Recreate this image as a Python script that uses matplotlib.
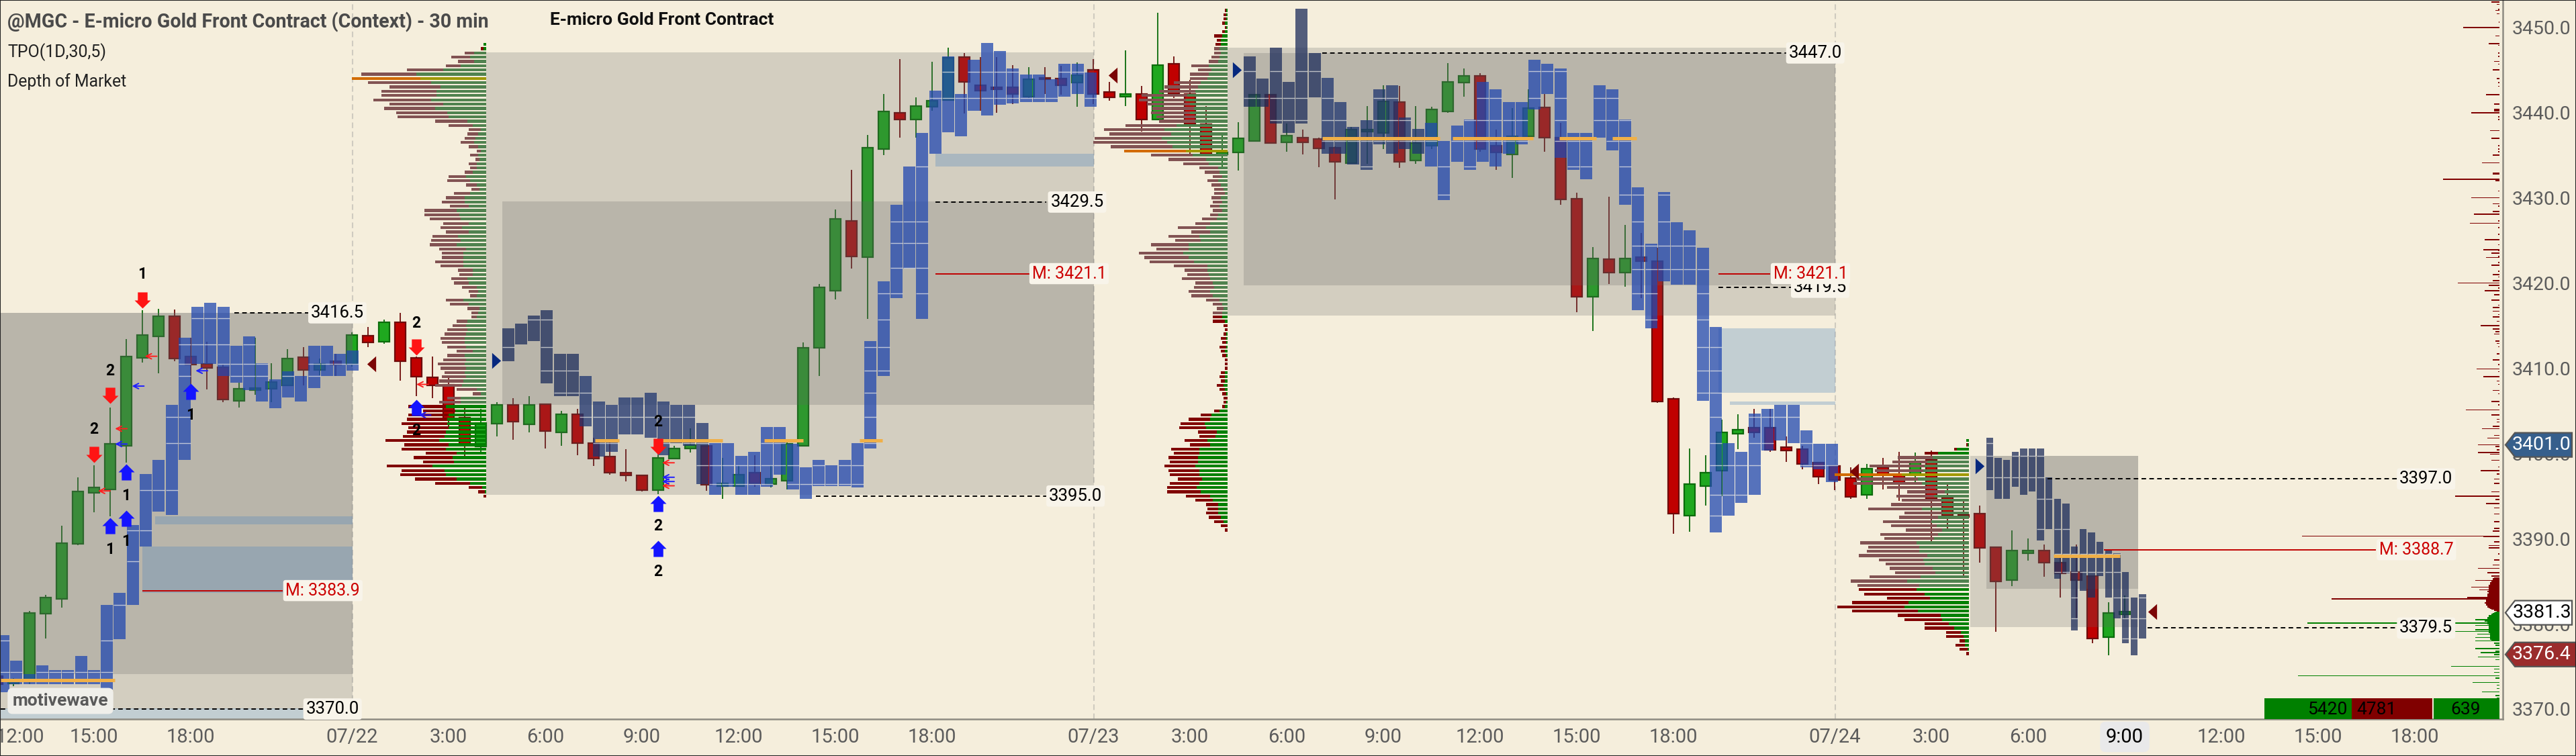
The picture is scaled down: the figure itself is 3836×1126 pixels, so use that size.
import matplotlib
matplotlib.use("Agg")
import matplotlib.pyplot as plt
from matplotlib.path import Path
from matplotlib.patches import Polygon, Rectangle
from matplotlib.transforms import blended_transform_factory

W, H = 3836, 1126
BG = "#F5EEDC"
plt.rcParams["font.family"] = ["Roboto", "DejaVu Sans"]

# candles: 30 min bars, bar 0 sits on the 07/22 line
first_bar = -22
opens = [3373.9, 3373.0, 3373.2, 3381.2, 3382.9, 3389.4, 3395.4, 3395.8, 3400.9, 3411.2, 3413.7, 3416.1, 3411.4, 3410.5, 3410.1, 3406.2, 3407.4, 3407.6, 3408.0, 3411.3, 3409.8, 3410.8,
         3410.5, 3413.8, 3413.1, 3415.4, 3411.2, 3408.9, 3408.1, 3404.2, 3400.8, 3403.5, 3405.7, 3403.4, 3405.8, 3402.5, 3404.6, 3401.2, 3399.6, 3397.7, 3397.4, 3395.7, 3399.4, 3400.6,
         3400.9, 3396.2, 3396.2, 3397.7, 3396.4, 3396.8, 3400.9, 3412.4, 3419.1, 3427.3, 3423.0, 3435.7, 3440.0, 3439.2, 3440.7, 3441.5, 3446.5, 3443.2, 3443.0, 3443.0, 3441.9, 3444.1,
         3444.0, 3443.5, 3445.0, 3442.4, 3441.9, 3442.2, 3439.2, 3445.7, 3442.2, 3438.6, 3435.1, 3435.3, 3436.7, 3442.1, 3436.5, 3437.1, 3436.9, 3435.9, 3434.1, 3437.8, 3437.6, 3441.2,
         3434.4, 3436.1, 3440.1, 3443.5, 3444.3, 3436.1, 3435.1, 3437.2, 3440.6, 3437.1, 3429.9, 3418.4, 3422.8, 3421.2, 3423.0, 3422.6, 3406.4, 3392.7, 3396.2, 3398.0, 3402.3, 3403.0,
         3403.0, 3400.7, 3400.5, 3398.9, 3398.5, 3397.1, 3395.1, 3398.4, 3397.5, 3397.5, 3399.2, 3394.8, 3392.8, 3392.9, 3389.0, 3385.1, 3388.3, 3388.6, 3387.2, 3386.1, 3385.6, 3378.4,
         3381.1]
highs = [3374.1, 3373.6, 3381.5, 3383.4, 3391.5, 3397.2, 3398.6, 3405.4, 3413.4, 3416.8, 3417.0, 3416.9, 3413.6, 3413.1, 3410.4, 3408.3, 3413.6, 3410.6, 3412.2, 3412.5, 3411.1, 3411.7,
         3414.2, 3414.8, 3415.7, 3416.5, 3411.4, 3411.4, 3408.9, 3405.7, 3405.2, 3406.0, 3406.5, 3406.7, 3405.8, 3405.0, 3405.2, 3401.8, 3401.3, 3400.5, 3397.5, 3399.8, 3400.9, 3402.9,
         3400.9, 3399.5, 3398.6, 3399.8, 3398.6, 3401.3, 3413.0, 3419.9, 3428.6, 3433.3, 3437.4, 3442.2, 3446.3, 3441.8, 3446.0, 3447.6, 3447.0, 3446.5, 3446.5, 3445.6, 3445.3, 3445.3,
         3445.5, 3445.9, 3446.3, 3443.6, 3447.3, 3443.1, 3451.7, 3446.6, 3443.8, 3440.8, 3437.7, 3438.9, 3442.1, 3442.2, 3438.7, 3438.0, 3437.1, 3436.0, 3438.3, 3440.8, 3443.2, 3443.1,
         3440.8, 3440.7, 3445.8, 3445.2, 3444.6, 3438.0, 3440.5, 3442.7, 3442.2, 3438.8, 3430.6, 3424.2, 3430.1, 3426.8, 3425.9, 3424.1, 3406.6, 3400.6, 3399.8, 3404.0, 3404.6, 3405.2,
         3405.2, 3402.0, 3400.9, 3399.0, 3398.5, 3398.4, 3398.8, 3399.5, 3400.2, 3400.1, 3400.3, 3396.4, 3394.4, 3393.9, 3389.0, 3391.0, 3390.0, 3389.3, 3387.9, 3389.3, 3385.6, 3382.5,
         3383.3]
lows = [3372.6, 3372.7, 3372.9, 3378.3, 3381.9, 3389.2, 3393.1, 3392.6, 3398.9, 3410.7, 3409.4, 3410.8, 3408.0, 3407.5, 3406.0, 3405.4, 3406.9, 3406.0, 3407.9, 3408.0, 3409.2, 3409.1,
        3410.2, 3412.5, 3412.9, 3408.5, 3406.7, 3406.5, 3403.0, 3399.6, 3400.1, 3402.0, 3401.6, 3402.5, 3400.6, 3400.9, 3399.8, 3398.5, 3397.5, 3396.7, 3395.5, 3395.2, 3399.3, 3400.1,
        3395.6, 3394.7, 3396.1, 3396.1, 3396.0, 3395.8, 3400.8, 3409.1, 3418.1, 3421.7, 3415.8, 3435.0, 3437.1, 3437.1, 3440.2, 3441.4, 3439.9, 3440.2, 3440.0, 3441.0, 3441.7, 3442.2,
        3442.1, 3440.7, 3441.0, 3441.4, 3440.8, 3437.8, 3439.1, 3441.7, 3435.1, 3435.1, 3433.7, 3433.2, 3436.7, 3436.4, 3435.4, 3435.1, 3433.6, 3429.8, 3434.0, 3434.0, 3435.7, 3433.5,
        3434.0, 3435.7, 3440.0, 3441.9, 3435.4, 3433.3, 3432.3, 3437.1, 3435.4, 3429.2, 3416.6, 3414.4, 3419.9, 3419.6, 3418.2, 3405.9, 3390.6, 3390.8, 3393.9, 3395.0, 3400.5, 3401.8,
        3400.2, 3399.0, 3398.1, 3396.4, 3395.7, 3394.7, 3394.7, 3395.8, 3394.4, 3396.4, 3389.6, 3391.0, 3385.6, 3387.2, 3379.1, 3384.4, 3387.4, 3385.5, 3383.1, 3380.6, 3377.7, 3376.3,
        3380.6]
closes = [3372.9, 3373.3, 3381.3, 3383.1, 3389.5, 3395.5, 3396.0, 3401.1, 3411.4, 3413.9, 3416.1, 3411.1, 3410.4, 3410.0, 3406.3, 3407.6, 3407.7, 3408.4, 3411.1, 3409.8, 3410.5, 3410.4,
          3413.9, 3413.0, 3415.4, 3410.8, 3409.0, 3408.0, 3404.1, 3401.1, 3403.6, 3405.7, 3403.7, 3405.7, 3402.6, 3404.6, 3401.2, 3399.4, 3397.7, 3397.4, 3395.7, 3399.5, 3400.6, 3401.0,
          3396.3, 3396.5, 3397.5, 3396.5, 3397.0, 3401.1, 3412.4, 3419.5, 3427.5, 3423.1, 3435.9, 3440.1, 3439.2, 3440.8, 3441.4, 3446.4, 3443.6, 3442.6, 3442.7, 3442.2, 3443.9, 3443.9,
          3443.2, 3444.4, 3442.2, 3441.8, 3442.2, 3439.2, 3445.6, 3442.2, 3438.6, 3435.1, 3435.3, 3437.0, 3442.1, 3436.4, 3437.3, 3436.5, 3435.8, 3434.2, 3438.0, 3438.0, 3441.3, 3434.2,
          3436.4, 3440.4, 3443.6, 3444.3, 3435.7, 3435.3, 3437.2, 3440.5, 3437.1, 3429.8, 3418.4, 3422.9, 3421.2, 3422.9, 3422.6, 3406.1, 3392.9, 3396.4, 3397.7, 3402.5, 3402.8, 3402.5,
          3400.4, 3400.3, 3398.8, 3397.3, 3396.9, 3394.9, 3398.2, 3397.5, 3396.5, 3398.9, 3394.7, 3392.7, 3392.5, 3388.9, 3385.0, 3388.6, 3388.6, 3387.2, 3385.9, 3385.1, 3378.3, 3381.3,
          3381.4]

# x axis labels (bar number, label)
tick_bars = [-20.6, -16, -10, 0, 6, 12, 18, 24, 30, 36, 46, 52, 58, 64, 70, 76, 82, 92, 98, 104, 110, 116, 122, 128]
tick_names = ["12:00", "15:00", "18:00", "07/22", "3:00", "6:00", "9:00", "12:00", "15:00", "18:00", "07/23", "3:00",
              "6:00", "9:00", "12:00", "15:00", "18:00", "07/24", "3:00", "6:00", "9:00", "12:00", "15:00", "18:00"]
price_ticks = [3370, 3380, 3390, 3400, 3410, 3420, 3430, 3440, 3450]

# TPO columns, one high and one low per column
tpo1_high = [3378.7, 3375.7, 3374.1, 3375.1, 3374.6, 3374.6, 3376.2, 3374.6, 3382.2, 3383.6, 3391.6, 3397.6, 3399.2, 3405.7, 3413.6, 3417.2, 3417.7, 3417.2, 3412.6, 3413.7, 3410.6, 3408.7, 3409.6, 3409.1, 3412.6, 3412.6, 3411.7, 3412.1]
tpo1_low = [3372.0, 3372.9, 3372.9, 3372.9, 3372.9, 3372.9, 3372.9, 3372.9, 3372.3, 3378.2, 3382.2, 3389.1, 3393.2, 3392.8, 3399.2, 3410.5, 3410.5, 3409.1, 3408.3, 3407.4, 3406.1, 3405.3, 3406.6, 3406.1, 3407.7, 3409.1, 3409.1, 3409.7]
tpo2_high = [3414.7, 3415.2, 3416.2, 3416.8, 3411.7, 3411.7, 3409.1, 3406.1, 3405.7, 3406.6, 3406.6, 3407.1, 3406.1, 3405.7, 3405.7, 3403.6, 3401.2, 3401.2, 3399.7, 3400.2, 3403.1, 3403.1, 3401.1, 3398.4, 3399.2, 3398.6, 3399.2, 3401.2,
             3413.2, 3420.2, 3429.2, 3433.7, 3437.6, 3442.6, 3446.6, 3442.2, 3446.2, 3448.2, 3447.2, 3445.2, 3444.5, 3444.5, 3443.9, 3445.7, 3445.7, 3444.7]
tpo2_low = [3410.8, 3412.8, 3413.2, 3408.2, 3406.7, 3406.7, 3403.2, 3399.6, 3400.2, 3402.2, 3402.2, 3401.8, 3399.8, 3401.2, 3400.9, 3396.4, 3395.1, 3396.1, 3395.1, 3395.1, 3396.1, 3397.5, 3395.8, 3394.7, 3396.2, 3396.2, 3396.2, 3396.0,
            3400.6, 3409.1, 3418.2, 3421.7, 3415.8, 3435.2, 3437.7, 3437.2, 3440.2, 3439.7, 3440.9, 3441.1, 3441.2, 3441.2, 3441.2, 3441.9, 3442.2, 3440.7]
tpo3_high = [3446.6, 3444.0, 3447.6, 3443.6, 3452.2, 3447.0, 3444.1, 3441.2, 3438.3, 3439.1, 3442.7, 3443.2, 3439.4, 3438.1, 3438.8, 3436.7, 3438.5, 3439.2, 3443.6, 3442.7, 3441.2, 3441.2, 3446.2,
             3445.7, 3445.2, 3437.6, 3437.6, 3443.2, 3442.7, 3439.2, 3431.2, 3424.6, 3430.7, 3427.1, 3426.2, 3424.1, 3414.8, 3401.2, 3400.2, 3404.7, 3405.2, 3405.7, 3405.7, 3402.7, 3401.1, 3401.1]
tpo3_low = [3440.7, 3440.7, 3438.7, 3437.6, 3438.7, 3441.8, 3435.2, 3435.2, 3433.9, 3433.3, 3436.3, 3435.2, 3435.7, 3435.2, 3433.7, 3429.7, 3434.2, 3433.3, 3434.2, 3433.7, 3435.2, 3436.3, 3440.4,
            3442.2, 3434.7, 3433.3, 3432.2, 3437.1, 3435.6, 3429.2, 3416.8, 3414.7, 3420.2, 3419.8, 3419.8, 3406.2, 3390.7, 3392.7, 3394.2, 3395.1, 3400.3, 3401.5, 3401.2, 3398.4, 3398.1, 3396.6]
tpo4_high = [3401.8, 3399.5, 3399.2, 3400.2, 3400.6, 3400.6, 3400.6, 3397.2, 3394.7, 3394.1, 3389.1, 3391.1, 3390.7, 3389.6, 3388.7, 3388.3, 3386.1, 3383.1, 3383.5]
tpo4_low = [3395.7, 3394.7, 3394.7, 3396.1, 3395.1, 3395.5, 3389.8, 3391.1, 3385.3, 3385.9, 3379.2, 3383.9, 3383.1, 3385.6, 3383.1, 3380.6, 3377.7, 3376.3, 3378.3]
tpo1_rows = [3374.3, 3378.0, 3382.2, 3387.3, 3391.0, 3395.7, 3401.2, 3404.3, 3409.1, 3410.5, 3412.8, 3415.9]
tpo2_rows = [3396.4, 3398.6, 3401.2, 3404.3, 3407.1, 3409.7, 3412.5, 3415.7, 3418.8, 3421.8, 3424.7, 3427.2, 3433.7, 3441.7, 3444.8]
tpo3_rows = [3392.7, 3395.1, 3398.6, 3401.2, 3404.3, 3407.1, 3409.7, 3412.5, 3415.7, 3418.8, 3421.6, 3424.4, 3427.2, 3430.4, 3433.7, 3436.7, 3439.1, 3441.7, 3444.9]
tpo4_rows = [3378.3, 3380.6, 3383.1, 3386.1, 3388.2, 3391.1, 3394.7, 3397.2, 3399.7, 3401.2]

# volume profiles, top row first, one row every 0.5 points
prof1_top = 3448.0
prof1_sell = [0, 12, 42, 84, 72, 66, 162, 246, 306, 282, 228, 246, 246, 258, 240, 228, 228, 228, 144, 108, 54, 48, 48, 60, 42, 18, 36, 18, 36, 30, 36, 78, 102, 48, 36, 72, 84, 102, 84, 144, 156, 138, 114, 96, 102, 114, 132, 120, 120, 96, 96, 126, 102,
              66, 60, 72, 66, 66, 42, 30, 78, 84, 54, 30, 24, 48, 60, 90, 96, 108, 102, 84, 72, 78, 102, 120, 114, 90, 108, 108, 120, 90, 36, 60, 96,
              168, 144, 180, 180, 204, 180, 174, 186, 240, 198, 198, 138, 174, 138, 204, 192, 204, 186, 156, 60, 30, 12]
prof1_buy = [12, 12, 54, 72, 54, 114, 192, 312, 294, 246, 204, 222, 222, 246, 192, 228, 174, 168, 84, 60, 24, 36, 48, 54, 36, 24, 36, 30, 42, 42, 60, 90, 72, 42, 30, 72, 96, 96, 78, 132, 120, 114, 78, 108, 78, 126, 114, 132, 90, 102, 102, 102, 102,
             60, 60, 84, 78, 42, 36, 42, 102, 78, 30, 36, 42, 84, 90, 84, 90, 96, 96, 90, 60, 96, 90, 96, 90, 96, 90, 102, 108, 42, 24, 114, 114,
             180, 138, 168, 174, 174, 168, 180, 186, 210, 168, 180, 132, 150, 144, 240, 186, 180, 132, 72, 18, 6, 0]
prof1_poc, prof1_va = 8, (2, 84)

prof2_top = 3452.0
prof2_sell = [6, 12, 12, 12, 6, 12, 36, 18, 24, 24, 30, 36, 42, 78, 60, 84, 78, 120, 150, 162, 204, 210, 192, 186, 174, 174, 162, 228, 270, 276, 300, 330, 276, 276, 186, 168, 114, 84, 66, 42, 48, 42, 42, 48, 42, 42, 42, 42, 36, 66, 66, 126, 84, 138, 114, 168, 144, 198, 198, 198, 150,
              102, 96, 126, 78, 90, 96, 96, 60, 42, 30, 42,
              42, 54, 18, 12, 12, 24, 18, 30, 18, 18, 12, 12, 12, 18, 24, 18, 30, 24, 18, 18, 12, 12, 24, 48, 96, 108, 120, 84, 72, 102, 90, 126, 114, 132, 126, 138, 138, 132, 108, 132, 132, 150, 108, 78, 54, 48, 54, 54, 42, 30, 12]
prof2_buy = [6, 6, 6, 12, 6, 12, 24, 30, 30, 36, 30, 36, 42, 84, 72, 84, 90, 120, 132, 144, 180, 186, 168, 150, 168, 144, 144, 228, 282, 252, 294, 270, 246, 186, 156, 96, 84, 42, 36, 24, 42, 30, 18, 12, 30, 24, 36, 24, 42, 48, 78, 96, 78, 126, 120, 174, 174, 198, 174, 150, 90,
             90, 84, 78, 66, 60, 78, 66, 36, 24, 18, 24,
             24, 12, 0, 0, 6, 6, 6, 6, 12, 6, 0, 0, 0, 12, 12, 12, 18, 12, 6, 0, 6, 12, 36, 72, 78, 102, 96, 48, 54, 90, 78, 126, 126, 132, 132, 144, 126, 126, 114, 126, 138, 120, 78, 66, 42, 42, 42, 30, 18, 0, 0]
prof2_poc, prof2_va = 33, (9, 71)

prof3_top = 3401.5
prof3_sell = [0, 6, 12, 60, 156, 156, 246, 216, 300, 276, 306, 216, 168, 168, 174, 228, 240, 168, 174, 216, 204, 162, 258, 222, 252, 228, 234, 306, 198, 174, 192, 180, 228, 252, 276,
              258, 270, 192, 252, 300, 294, 192, 168, 108, 132, 66, 78, 24, 42, 36, 12]
prof3_buy = [12, 6, 54, 138, 162, 186, 198, 204, 300, 228, 210, 150, 108, 156, 126, 120, 210, 120, 138, 168, 144, 120, 138, 156, 234, 222, 222, 186, 204, 198, 162, 150, 216, 276, 222,
             234, 198, 174, 270, 288, 228, 126, 120, 90, 66, 36, 24, 18, 18, 6, 0]
prof3_poc, prof3_va = 8, (4, 34)

# depth of market ladder
ask_prices = [3453.0, 3452.7, 3452.1, 3452.0, 3451.6, 3450.6, 3450.0, 3449.0, 3448.1, 3447.9, 3447.0, 3446.6, 3446.0, 3445.7, 3445.0, 3444.0, 3443.5, 3443.1, 3442.1, 3441.0, 3440.4, 3440.3, 3440.2, 3440.0,
              3439.5, 3439.2, 3437.9, 3437.0, 3436.1, 3435.7, 3435.4, 3435.0, 3434.1, 3432.9, 3432.8, 3432.2, 3432.0, 3430.8, 3430.0, 3429.3, 3429.0, 3428.4, 3428.1, 3427.3, 3427.0, 3426.5, 3425.7, 3425.1,
              3424.5, 3423.9, 3423.8, 3423.5, 3423.1, 3423.0, 3422.4, 3422.1, 3421.4, 3421.0, 3420.7, 3420.3, 3420.0, 3419.7, 3419.4, 3419.1, 3418.6, 3418.0, 3417.4, 3417.1, 3416.7, 3416.3, 3416.0, 3415.5,
              3415.0, 3414.6, 3414.3, 3414.0, 3413.2, 3412.9, 3412.5, 3411.7, 3411.0, 3410.4, 3409.9, 3409.6, 3409.0, 3408.5, 3408.1, 3407.4, 3407.0, 3406.1, 3405.7, 3405.1, 3404.5, 3404.0, 3403.7, 3403.2,
              3402.9, 3402.1, 3401.8, 3401.0, 3400.8, 3400.4, 3400.1, 3399.9, 3399.2, 3398.4, 3398.0, 3397.6, 3397.0, 3396.5, 3395.5, 3395.0, 3394.6, 3394.1, 3393.6, 3392.9, 3392.0, 3391.2, 3390.9, 3390.3,
              3390.2, 3389.6, 3389.2, 3388.9, 3388.2, 3387.5, 3386.9, 3386.5, 3386.0, 3385.6,
              3385.4, 3385.3, 3385.2, 3385.1, 3385.0, 3384.9, 3384.8, 3384.7, 3384.6, 3384.5, 3384.4, 3384.3, 3384.2, 3384.1, 3384.0, 3383.9, 3383.8, 3383.7, 3383.6, 3383.5, 3383.4, 3383.3, 3383.2, 3383.1,
              3383.0, 3382.9, 3382.8, 3382.7, 3382.6, 3382.5, 3382.4, 3382.3, 3382.2, 3382.1, 3382.0, 3381.9, 3381.8, 3381.7, 3381.6, 3381.5]
ask_sizes = [36, 12, 6, 18, 12, 4, 162, 18, 48, 6, 6, 6, 24, 6, 30, 12, 6, 6, 60, 24, 24, 24, 24, 126,
             6, 6, 42, 36, 6, 6, 6, 30, 78, 30, 30, 252, 18, 6, 126, 30, 6, 30, 114, 6, 132, 6, 6, 66,
             6, 72, 6, 36, 6, 60, 6, 36, 6, 30, 6, 30, 186, 48, 6, 66, 24, 36, 6, 30, 30, 6, 30, 12,
             84, 30, 18, 24, 18, 12, 6, 12, 30, 6, 102, 6, 72, 12, 6, 30, 6, 36, 6, 150, 36, 12, 12, 30,
             78, 24, 54, 96, 18, 12, 96, 42, 36, 6, 84, 12, 24, 24, 36, 198, 18, 60, 24, 24, 24, 24, 30, 882,
             72, 24, 48, 48, 6, 24, 30, 96, 54, 36,
             24, 30, 30, 108, 36, 36, 42, 42, 42, 48, 48, 126, 48, 48, 90, 48, 54, 48, 48, 54, 54, 54, 54, 144,
             60, 750, 60, 60, 60, 66, 66, 60, 60, 54, 54, 48, 42, 36, 24, 12]
bid_prices = [3381.4, 3381.3, 3381.2, 3381.1, 3381.0, 3380.9, 3380.8, 3380.7, 3380.6, 3380.5, 3380.4, 3380.3, 3380.2, 3380.1, 3380.0, 3379.9, 3379.8, 3379.7, 3379.6, 3379.5, 3379.4, 3379.3, 3379.2, 3379.1,
              3379.0, 3378.9, 3378.8, 3378.7, 3378.6, 3378.5, 3378.4, 3378.3, 3378.2, 3378.1, 3378.0, 3377.7, 3377.5, 3377.1, 3376.8, 3376.6, 3376.4, 3376.1, 3375.8, 3375.0, 3374.7, 3374.3, 3373.9, 3373.6,
              3373.1, 3372.8, 3372.4, 3372.0, 3371.6, 3371.3]
bid_sizes = [18, 24, 30, 36, 48, 48, 48, 54, 54, 108, 60, 66, 54, 858, 54, 48, 108, 48, 48, 48, 48, 108, 48, 216,
             48, 42, 100, 42, 42, 42, 108, 42, 42, 36, 108, 24, 18, 108, 18, 84, 24, 96, 18, 216, 24, 24, 900, 18,
             120, 12, 12, 78, 18, 12]

# labels on the chart
level_prices = [3416.5, 3370.0, 3395.0, 3429.5, 3447.0, 3419.5, 3397.0, 3379.5]
level_from = [-7.3, -21.8, 28.8, 36.2, 60.2, 84.8, 105.2, 111.4]
level_to = [-2.6, -3.0, 43.1, 43.1, 89.0, 89.4, 126.9, 127.0]
level_text_x = [-0.9, -1.2, 44.9, 45.0, 90.8, 91.1, 128.7, 128.7]
mid_prices = [3383.9, 3421.1, 3421.1, 3388.7]
mid_from = [-13.0, 36.2, 84.8, 108.7]
mid_to = [-4.3, 42.1, 88.0, 125.6]
mid_text_x = [-1.8, 44.5, 90.5, 128.1]

poc_price = [3373.4, 3401.5, 3401.5, 3401.5, 3401.5, 3437.0, 3437.0, 3437.0, 3437.0, 3388.0]
poc_from = [-21.8, 15.1, 19.2, 25.6, 31.5, 60.2, 68.3, 74.9, 78.2, 105.6]
poc_to = [-14.7, 16.6, 23.0, 28.0, 32.9, 67.5, 73.3, 77.2, 79.7, 109.7]

# arrows and their counts
down_x, down_y = [-13, -15, -16, 4, 19], [3418.0, 3406.8, 3399.9, 3412.5, 3400.8]
up_x, up_y = [-10, -14, -14, -15, 4, 19, 19], [3407.3, 3397.8, 3392.4, 3391.5, 3405.4, 3394.1, 3388.8]
count_x = [-13, -15, -16, -10, -14, -14, -15, 4, 4, 19, 19, 19]
count_y = [3421.0, 3409.7, 3402.8, 3404.5, 3395.0, 3389.7, 3388.7, 3415.3, 3402.7, 3403.7, 3391.5, 3386.1]
count_txt = ["1", "2", "2", "1", "1", "1", "1", "2", "2", "2", "2", "2"]
red_left_x = [-12.5, -14.35, -15.4, 4.35, 19.6, 19.6]
red_left_y = [3411.4, 3402.9, 3395.6, 3408.1, 3398.9, 3396.2]
blue_left_x = [-13.3, -14.35, -9.35, 4.5, 19.6, 19.6]
blue_left_y = [3407.9, 3401.1, 3409.7, 3404.5, 3397.2, 3396.7]
end_x, end_y = [1.2, 47.2, 93.2, 111.7], [3410.5, 3444.4, 3397.9, 3381.4]
start_x, start_y = [8.95, 54.9, 100.98], [3410.9, 3445.0, 3398.5]


def bar_x(px):
    return (px - 524) / 24.0


def draw_boxes(ax):
    left = bar_x(0)
    boxes = [(left, 0.05, 3416.5, 3370.0), (left, 0.05, 3416.5, 3374.1),
             (8.33, 46.04, 3447.1, 3395.1), (9.33, 46.04, 3429.6, 3405.7),
             (54.33, 92.04, 3447.6, 3416.2), (55.33, 92.04, 3447.0, 3419.7),
             (100.4, 110.83, 3399.7, 3379.6), (101.4, 110.83, 3399.7, 3384.1)]
    for x0, x1, top, bot in boxes:
        ax.add_patch(Rectangle((x0, bot), x1 - x0, top - bot, fc="#646464", ec="none", alpha=0.23, zorder=2))
    bands = [(-12.2, 0.05, 3392.6, 3391.7), (-13.0, 0.05, 3389.1, 3383.6), (-21.8, -3.0, 3370.1, 3368.8),
             (36.2, 46.04, 3435.2, 3433.7), (84.8, 92.04, 3414.7, 3407.1), (85.5, 92.04, 3406.1, 3405.7)]
    for x0, x1, top, bot in bands:
        ax.add_patch(Rectangle((x0, bot), x1 - x0, top - bot, fc="#4E85BE", ec="none", alpha=0.3, zorder=2.1))


def draw_candles(ax):
    for i in range(len(opens)):
        x = first_bar + i
        up = closes[i] >= opens[i]
        face = "#1FA81F" if up else "#C00000"
        edge = "#0B6B0B" if up else "#6E0B0B"
        ax.vlines(x, lows[i], highs[i], color=edge, lw=1.3, zorder=1)
        ax.bar(x, abs(closes[i] - opens[i]), bottom=min(opens[i], closes[i]), width=0.7,
               fc=face, ec=edge, lw=1.6, zorder=1.2)


def draw_tpo(ax, x0, pitch, width, highs_, lows_, rows, dark=0, mid=0):
    for k in range(len(highs_)):
        x = x0 + k * pitch
        if k < dark:
            color = "#1D2D5B"
        elif k < dark + mid:
            color = "#1F3570"
        else:
            color = "#2148B0"
        ax.add_patch(Rectangle((x, lows_[k]), width, highs_[k] - lows_[k], fc=color, ec="none", alpha=0.75, zorder=3))
        for r in rows:
            if lows_[k] < r < highs_[k]:
                ax.hlines(r, x, x + width, color="#F2F0EA", lw=1.0, alpha=0.7, zorder=3.1)


def draw_profile(ax, anchor, top, sell, buy, poc, va):
    unit = 1 / 72.0
    for k in range(len(sell)):
        y = top - k * 0.5
        red, green = "#800000", "#008000"
        if va[0] <= k <= va[1]:
            red, green = "#825353", "#50824F"
        if k == poc:
            red, green = "#D26B00", "#A09800"
        h = 0.34
        ax.barh(y, buy[k] * unit, left=anchor - buy[k] * unit, height=h, color=green, lw=0, zorder=4, antialiased=False)
        ax.barh(y, sell[k] * unit, left=anchor - (buy[k] + sell[k]) * unit, height=h, color=red, lw=0, zorder=4, antialiased=False)


def arrow_marker(direction):
    pts = [(-0.3, -0.5), (0.3, -0.5), (0.3, 0.0), (0.5, 0.0), (0.0, 0.5), (-0.5, 0.0), (-0.3, 0.0), (-0.3, -0.5)]
    pts = [(a, direction * b) for a, b in pts]
    return Path(pts, closed=True)


fig = plt.figure(figsize=(W / 100, H / 100), dpi=100, facecolor=BG)
ax = fig.add_axes([0, (H - 1071) / H, 3727 / W, 1071 / H], facecolor=BG)
ax.set_xlim(bar_x(0), bar_x(3727))
ax.set_ylim(3370 - 15 / 12.69, 3370 + 1056 / 12.69)

for d in [0, 46, 92]:
    ax.axvline(d + 0.05, color="#CFCBC0", lw=1.5, ls=(0, (4, 2.5)), zorder=0.5)

draw_candles(ax)
draw_boxes(ax)
draw_tpo(ax, -22.0, 0.803, 0.75, tpo1_high, tpo1_low, tpo1_rows)
draw_tpo(ax, 9.32, 0.803, 0.75, tpo2_high, tpo2_low, tpo2_rows, dark=6, mid=10)
draw_tpo(ax, 55.34, 0.803, 0.75, tpo3_high, tpo3_low, tpo3_rows, dark=6, mid=8)
draw_tpo(ax, 101.4, 0.527, 0.43, tpo4_high, tpo4_low, tpo4_rows, dark=19)
for p, a, b in zip(poc_price, poc_from, poc_to):
    ax.hlines(p, a, b, color="#F0B048", lw=3.6, zorder=3.3)

draw_profile(ax, 8.33, prof1_top, prof1_sell, prof1_buy, prof1_poc, prof1_va)
draw_profile(ax, 54.33, prof2_top, prof2_sell, prof2_buy, prof2_poc, prof2_va)
draw_profile(ax, 100.33, prof3_top, prof3_sell, prof3_buy, prof3_poc, prof3_va)

# ladder on the right
dom_right = bar_x(3722)
ax.barh(ask_prices, [-s / 72.0 for s in ask_sizes], left=dom_right, height=0.13, color="#800000", lw=0, zorder=3, antialiased=False)
ax.barh(bid_prices, [-s / 72.0 for s in bid_sizes], left=dom_right, height=0.13, color="#008000", lw=0, zorder=3, antialiased=False)

# totals strip
strip_y = 3370 + (1056 - 1040) / 12.69
strip_bot = ax.get_ylim()[0]
for x0, x1, c in [(3372, 3502, "#008000"), (3502, 3622, "#800000"), (3624, 3722, "#008000")]:
    ax.add_patch(Rectangle((bar_x(x0), strip_bot), (x1 - x0) / 24.0, strip_y - strip_bot, fc=c, ec="none", zorder=5))
ty = (strip_y + strip_bot) / 2 - 0.1
ax.text(bar_x(3495), ty, "5420", ha="right", va="center", fontsize=19, color="black", zorder=6)
ax.text(bar_x(3509), ty, "4781", ha="left", va="center", fontsize=19, color="black", zorder=6)
ax.text(bar_x(3672), ty, "639", ha="center", va="center", fontsize=19, color="black", zorder=6)

# level lines and labels
label_box = dict(boxstyle="round,pad=0.15", fc="#F8F4EA", ec="none")
for p, a, b, tx in zip(level_prices, level_from, level_to, level_text_x):
    ax.hlines(p, a, b, color="black", lw=1.4, ls=(0, (3.5, 2.5)), zorder=6)
    ax.text(tx, p, f"{p:.1f}", ha="center", va="center", fontsize=18.5, color="black", bbox=label_box, zorder=6.1)
for p, a, b, tx in zip(mid_prices, mid_from, mid_to, mid_text_x):
    ax.hlines(p, a, b, color="#C00000", lw=1.4, zorder=6.2)
    ax.text(tx, p, f"M: {p:.1f}", ha="center", va="center", fontsize=18, color="#CC0000", bbox=label_box, zorder=6.3)

# arrows and session markers
ax.scatter(down_x, down_y, marker=arrow_marker(-1), s=300, color="#FF1414", lw=0, zorder=7)
ax.scatter(up_x, up_y, marker=arrow_marker(1), s=300, color="#1414FF", lw=0, zorder=7)
for x, y, t in zip(count_x, count_y, count_txt):
    ax.text(x, y, t, ha="center", va="center", fontsize=16.5, fontweight="bold", color="black", zorder=7)
for xs, ys, c in [(red_left_x, red_left_y, "#FF2020"), (blue_left_x, blue_left_y, "#2020FF")]:
    for x, y in zip(xs, ys):
        ax.annotate("", xy=(x - 0.35, y), xytext=(x + 0.4, y),
                    arrowprops=dict(arrowstyle="->", color=c, lw=1.4, shrinkA=0, shrinkB=0, mutation_scale=14), zorder=7)
tri_left = Path([(0.28, -0.5), (0.28, 0.5), (-0.28, 0.0), (0.28, -0.5)], closed=True)
tri_right = Path([(-0.28, -0.5), (-0.28, 0.5), (0.28, 0.0), (-0.28, -0.5)], closed=True)
ax.scatter(end_x, end_y, marker=tri_left, s=290, color="#7B0606", lw=0, zorder=5.5)
ax.scatter(start_x, start_y, marker=tri_right, s=290, color="#06287E", lw=0, zorder=5.5)

# axes
for s in ["top", "left"]:
    ax.spines[s].set_visible(False)
for s in ["bottom", "right"]:
    ax.spines[s].set_color("#8E8B82")
    ax.spines[s].set_linewidth(1.8)
ax.yaxis.tick_right()
ax.set_yticks(price_ticks)
ax.set_yticklabels([f"{p:.1f}" for p in price_ticks])
ax.set_xticks(tick_bars)
ax.set_xticklabels(tick_names)
ax.tick_params(axis="y", length=0, pad=10, labelsize=20.5, labelcolor="#5C5C5C")
ax.tick_params(axis="x", length=0, pad=9, labelsize=21, labelcolor="#5C5C5C")
for lab in ax.get_xticklabels():
    if lab.get_text() == "9:00" and lab.get_position()[0] == 110:
        lab.set_color("black")
        lab.set_bbox(dict(boxstyle="round,pad=0.3", fc="#E9E9EA", ec="none"))

# price flags past the axis
flag_tr = blended_transform_factory(fig.transFigure, ax.transData)
flags = [(3401.0, "#365F8C", "white", 3830), (3381.3, "white", "black", 3830), (3376.4, "#9B2C2C", "white", 3840)]
for p, fc, tc, right in flags:
    h = 1.42
    pts = [(3731 / W, p), (3745 / W, p + h), (right / W, p + h), (right / W, p - h), (3745 / W, p - h)]
    ax.add_patch(Polygon(pts, closed=True, transform=flag_tr, fc=fc, ec="#555555", lw=1.6, clip_on=False, zorder=8))
    ax.text(3785 / W, p, f"{p:.1f}", transform=flag_tr, ha="center", va="center", fontsize=20.5, color=tc, clip_on=False, zorder=9)

# header text
fig.text(11 / W, 1 - 33 / H, "@MGC - E-micro Gold Front Contract (Context) - 30 min", fontsize=20.6, fontweight="bold", color="#4A4A4A", va="center")
fig.text(819 / W, 1 - 30 / H, "E-micro Gold Front Contract", fontsize=19, fontweight="bold", color="#111111", va="center")
fig.text(11 / W, 1 - 78 / H, "TPO(1D,30,5)", fontsize=18, color="#222222", va="center")
fig.text(11 / W, 1 - 122 / H, "Depth of Market", fontsize=17.8, color="#222222", va="center")
fig.text(90 / W, 1 - 1044 / H, "motivewave", fontsize=19, fontweight="bold", color="#5A5A5A", ha="center", va="center", zorder=10,
         bbox=dict(boxstyle="round,pad=0.28", fc="#F0EFEA", ec="none"))

fig.patches.append(Rectangle((0, 0), 1, 1, transform=fig.transFigure, fc="none", ec="#222222", lw=1.5))
fig.savefig("out.png", dpi=100, facecolor=BG)
